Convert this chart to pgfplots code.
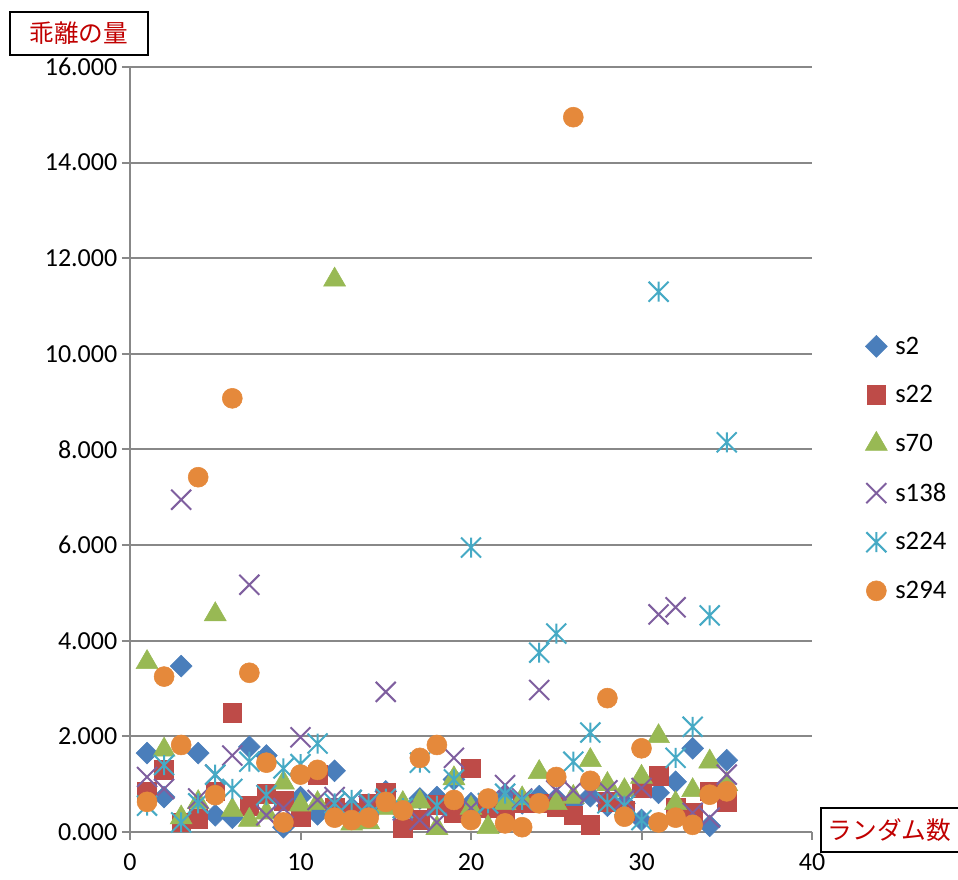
\documentclass[border=0pt]{standalone}
\usepackage{pgfplots}
\pgfplotsset{compat=1.18}
\usepackage{pgfplotstable}
\usepackage{fontspec}
\setmainfont{Carlito}
\newfontfamily\jp{Noto Sans CJK JP}
\definecolor{axgray}{HTML}{888888}
\definecolor{jpred}{HTML}{C00000}
\definecolor{cA}{HTML}{4A7EBB}
\definecolor{cB}{HTML}{BE4B48}
\definecolor{cC}{HTML}{98B954}
\definecolor{cD}{HTML}{7F5F9F}
\definecolor{cE}{HTML}{46AAC5}
\definecolor{cF}{HTML}{E5893B}
\pgfdeclareplotmark{excelstar}{%
 \pgfpathmoveto{\pgfqpoint{-\pgfplotmarksize}{-\pgfplotmarksize}}%
 \pgfpathlineto{\pgfqpoint{\pgfplotmarksize}{\pgfplotmarksize}}%
 \pgfpathmoveto{\pgfqpoint{-\pgfplotmarksize}{\pgfplotmarksize}}%
 \pgfpathlineto{\pgfqpoint{\pgfplotmarksize}{-\pgfplotmarksize}}%
 \pgfpathmoveto{\pgfqpoint{0pt}{-\pgfplotmarksize}}%
 \pgfpathlineto{\pgfqpoint{0pt}{\pgfplotmarksize}}%
 \pgfusepathqstroke}
\pgfdeclareplotmark{excelx}{%
 \pgfpathmoveto{\pgfqpoint{-\pgfplotmarksize}{-\pgfplotmarksize}}%
 \pgfpathlineto{\pgfqpoint{\pgfplotmarksize}{\pgfplotmarksize}}%
 \pgfpathmoveto{\pgfqpoint{-\pgfplotmarksize}{\pgfplotmarksize}}%
 \pgfpathlineto{\pgfqpoint{\pgfplotmarksize}{-\pgfplotmarksize}}%
 \pgfusepathqstroke}
\pgfplotstableread{
x s2 s22 s70 s138 s224 s294
1 1.65 0.84 3.55 1.15 0.55 0.63
2 0.73 1.30 1.72 0.90 1.40 3.25
3 3.47 0.20 0.30 6.95 0.20 1.82
4 1.65 0.28 0.62 0.70 0.60 7.42
5 0.35 0.85 4.55 1.20 1.20 0.77
6 0.30 2.50 0.46 1.60 0.90 9.07
7 1.78 0.55 0.25 5.17 1.47 3.33
8 1.60 0.80 0.40 0.35 0.77 1.45
9 0.10 0.65 1.03 0.50 1.33 0.20
10 0.73 0.32 0.57 1.98 1.42 1.20
11 0.37 1.20 0.60 0.67 1.85 1.30
12 1.28 0.50 11.55 0.73 0.60 0.30
13 0.50 0.40 0.17 0.67 0.67 0.25
14 0.50 0.60 0.20 0.55 0.60 0.30
15 0.85 0.82 0.50 2.93 0.70 0.63
16 0.40 0.08 0.60 0.45 0.50 0.45
17 0.70 0.25 0.63 0.25 1.45 1.55
18 0.73 0.57 0.08 0.20 0.55 1.82
19 1.10 0.40 1.12 1.55 1.10 0.67
20 0.60 1.33 0.50 0.50 5.95 0.25
21 0.46 0.50 0.10 0.60 0.60 0.70
22 0.78 0.45 0.60 0.98 0.80 0.18
23 0.60 0.60 0.70 0.70 0.67 0.10
24 0.75 0.60 1.25 2.97 3.75 0.60
25 0.70 0.53 0.60 0.87 4.15 1.15
26 0.60 0.35 0.73 0.87 1.47 14.95
27 0.75 0.15 1.50 0.80 2.08 1.07
28 0.55 0.63 1.00 0.87 0.60 2.80
29 0.60 0.45 0.87 0.67 0.55 0.32
30 0.25 0.92 1.15 0.92 0.25 1.75
31 0.82 1.17 2.00 4.55 11.30 0.20
32 1.05 0.50 0.60 4.70 1.55 0.30
33 1.75 0.40 0.87 0.40 2.20 0.15
34 0.13 0.85 1.47 0.30 4.53 0.78
35 1.50 0.63 1.00 1.20 8.15 0.85
}\datatable
\begin{document}
\begin{tikzpicture}[x=0.75pt,y=0.75pt]
\useasboundingbox (0,0) rectangle (958,880);
\begin{axis}[
  at={(97.5pt,36pt)}, anchor=south west,
  scale only axis, width=511.5pt, height=573.75pt,
  xmin=0, xmax=40, ymin=0, ymax=16,
  xtick={0,10,20,30,40}, ytick={0,2,...,16},
  axis x line=bottom, axis y line=left,
  axis line style={-, draw=axgray, line width=1.5pt},
  tick align=outside, major tick length=6pt,
  tick style={axgray, line width=1.5pt},
  ymajorgrids, grid style={axgray, line width=1.5pt},
  ticklabel style={font=\fontsize{19.5}{22}\selectfont, text=black},
  /pgf/number format/assume math mode=true,
  yticklabel style={/pgf/number format/.cd, fixed, fixed zerofill, precision=3, 1000 sep={}},
  xticklabel style={/pgf/number format/.cd, fixed, precision=0, /tikz/.cd, yshift=-7pt},
  clip=false,
  legend style={at={(axis description cs:1.072,0.475)}, anchor=west, draw=none, fill=none,
    font=\fontsize{20}{22}\selectfont, row sep=18pt,
    /tikz/every odd column/.append style={column sep=4pt}},
  legend cell align=left,
]
\addplot[only marks, mark=square*, mark size=5.8pt, mark options={rotate=45, fill=cA, draw=cA}] table[x=x,y=s2]{\datatable};
\addlegendentry{s2}
\addplot[only marks, mark=square*, mark size=7pt, mark options={fill=cB, draw=cB}] table[x=x,y=s22]{\datatable};
\addlegendentry{s22}
\addplot[only marks, mark=triangle*, mark size=9.5pt, mark options={fill=cC, draw=cC}] table[x=x,y=s70]{\datatable};
\addlegendentry{s70}
\addplot[only marks, mark=excelx, mark size=7.5pt, mark options={draw=cD, line width=1.5pt}] table[x=x,y=s138]{\datatable};
\addlegendentry{s138}
\addplot[only marks, mark=excelstar, mark size=7.5pt, mark options={draw=cE, line width=1.5pt}] table[x=x,y=s224]{\datatable};
\addlegendentry{s224}
\addplot[only marks, mark=*, mark size=7.5pt, mark options={fill=cF, draw=cF}] table[x=x,y=s294]{\datatable};
\addlegendentry{s294}
\end{axis}
\node[draw=black, line width=1.3pt, minimum width=103.5pt, minimum height=32.25pt, inner sep=0pt, text=jpred, font=\jp\fontsize{18.5}{20}\selectfont] at (79,846.5) {乖離の量};
\node[draw=black, line width=1.3pt, minimum width=105pt, minimum height=33pt, inner sep=0pt, text=jpred, font=\jp\fontsize{18.5}{20}\selectfont, anchor=west] at (820,50) {\hspace*{-2pt}ランダム数};
\end{tikzpicture}
\end{document}
